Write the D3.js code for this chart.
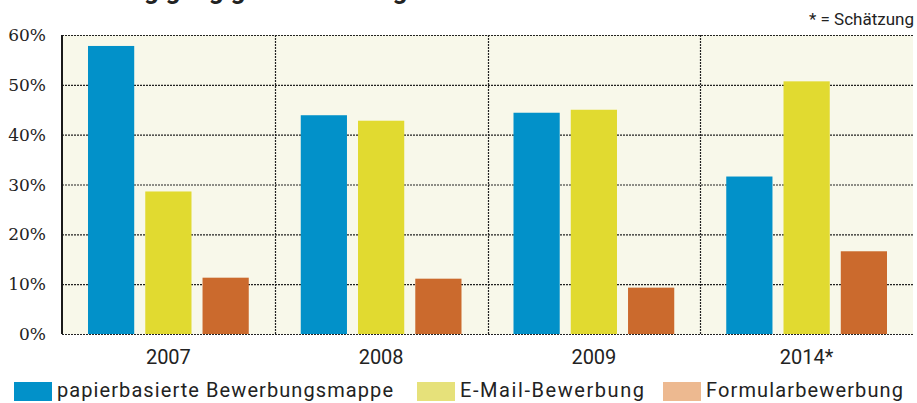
<!DOCTYPE html>
<html>
<head>
<meta charset="utf-8">
<script src="https://cdn.jsdelivr.net/npm/d3@7"></script>
<style>
  body { margin: 0; background: #fff; }
  svg { display: block; }
  .ylabel { font-family: 'DejaVu Serif', 'Liberation Serif', serif; }
</style>
</head>
<body>
<div class="chart"></div>
<script>
var years = ['2007', '2008', '2009', '2014*']
var seriesNames = ['papierbasierte Bewerbungsmappe', 'E-Mail-Bewerbung', 'Formularbewerbung']
var papier = [57.8, 43.9, 44.4, 31.6]
var email = [28.6, 42.8, 45.0, 50.7]
var formular = [11.3, 11.1, 9.3, 16.6]
var yTicks = [0, 10, 20, 30, 40, 50, 60]

var barColors = ['#0291c9', '#e1da30', '#cb6a2d']
var legendColors = ['#0291c9', '#e6e17a', '#edb990']

var width = 917, height = 403
var margin = {top: 35, left: 62, right: 4, bottom: 69}

var svg = d3.select('.chart')
    .append('svg')
    .attr('width', width)
    .attr('height', height)

var x0 = d3.scaleBand()
    .domain(years)
    .range([margin.left, width - margin.right])
    .padding(0)

var x1 = d3.scaleBand()
    .domain([0, 1, 2])
    .range([26, x0.bandwidth() - 26])
    .paddingInner(0.193)

var y = d3.scaleLinear()
    .domain([0, 60])
    .range([height - margin.bottom, margin.top])

// title, mostly cut off at the top edge like in the original
svg.append('text')
    .attr('x', 60)
    .attr('y', -1)
    .attr('font-family', 'Roboto, sans-serif')
    .attr('font-weight', 700)
    .attr('font-size', 26)
    .attr('fill', '#222')
    .text('Nutzung gängiger Bewerbungsformen in Unternehmen')

svg.append('text')
    .attr('x', 914)
    .attr('y', 25)
    .attr('text-anchor', 'end')
    .attr('font-family', 'Roboto, sans-serif')
    .attr('font-size', 17)
    .attr('fill', '#222')
    .text('* = Schätzung')

// plot background
svg.append('rect')
    .attr('x', margin.left)
    .attr('y', y(60))
    .attr('width', x0.range()[1] - margin.left)
    .attr('height', y(0) - y(60))
    .attr('fill', '#f8f8ea')

// grid
svg.append('g')
    .attr('class', 'grid')
    .attr('transform', 'translate(' + margin.left + ',0)')
    .call(d3.axisLeft(y)
        .tickValues(yTicks)
        .tickSize(-(x0.range()[1] - margin.left))
        .tickFormat(''))
    .call(function(g) { g.select('.domain').remove() })
    .selectAll('.tick line')
    .attr('stroke', '#222')
    .attr('stroke-width', 1.2)
    .attr('stroke-dasharray', '2,1')

svg.append('g')
    .selectAll('line')
    .data(years.slice(1))
    .enter()
    .append('line')
    .attr('x1', function(d) { return Math.round(x0(d)) + 0.5 })
    .attr('x2', function(d) { return Math.round(x0(d)) + 0.5 })
    .attr('y1', y(60))
    .attr('y2', y(0))
    .attr('stroke', '#222')
    .attr('stroke-width', 1.2)
    .attr('stroke-dasharray', '2,1')

// bars
var values = [papier, email, formular]
var group = svg.append('g')
    .selectAll('g')
    .data(years)
    .enter()
    .append('g')
    .attr('transform', function(d) { return 'translate(' + x0(d) + ',0)' })

group.selectAll('rect')
    .data(function(d, i) { return values.map(function(s, k) { return {k: k, v: s[i]} }) })
    .enter()
    .append('rect')
    .attr('x', function(d) { return x1(d.k) })
    .attr('y', function(d) { return y(d.v) })
    .attr('width', x1.bandwidth())
    .attr('height', function(d) { return y(0) - y(d.v) })
    .attr('fill', function(d) { return barColors[d.k] })

// left axis line + labels
svg.append('line')
    .attr('x1', margin.left)
    .attr('x2', margin.left)
    .attr('y1', y(60))
    .attr('y2', y(0))
    .attr('stroke', '#1a1a1a')
    .attr('stroke-width', 2)

svg.append('g')
    .selectAll('text')
    .data(yTicks)
    .enter()
    .append('text')
    .attr('class', 'ylabel')
    .attr('x', 46)
    .attr('y', function(d) { return y(d) })
    .attr('dy', '0.36em')
    .attr('text-anchor', 'end')
    .attr('font-size', 17)
    .attr('fill', '#222')
    .text(function(d) { return d + '%' })

svg.append('g')
    .selectAll('text')
    .data(years)
    .enter()
    .append('text')
    .attr('x', function(d) { return x0(d) + x0.bandwidth() / 2 })
    .attr('y', 364)
    .attr('text-anchor', 'middle')
    .attr('font-family', 'Roboto, sans-serif')
    .attr('font-size', 20)
    .attr('fill', '#222')
    .text(function(d) { return d })

// legend
var legendX = [14, 417, 663]
var legendW = [336, 184, 197]
var legend = svg.append('g')
    .selectAll('g')
    .data(seriesNames)
    .enter()
    .append('g')
    .attr('transform', function(d, i) { return 'translate(' + legendX[i] + ',382)' })

legend.append('rect')
    .attr('width', 38)
    .attr('height', 19)
    .attr('fill', function(d, i) { return legendColors[i] })

legend.append('text')
    .attr('x', 43)
    .attr('y', 15)
    .attr('font-family', 'Roboto, sans-serif')
    .attr('font-size', 20)
    .attr('fill', '#222')
    .attr('textLength', function(d, i) { return legendW[i] })
    .attr('lengthAdjust', 'spacing')
    .text(function(d) { return d })
</script>
</body>
</html>
